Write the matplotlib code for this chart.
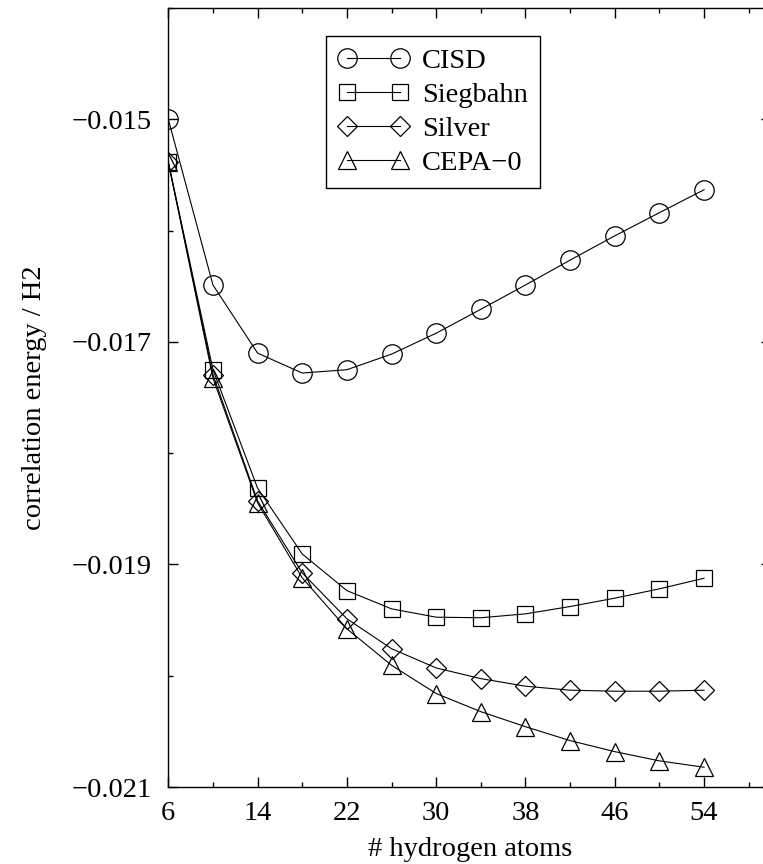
import numpy as np
import matplotlib
matplotlib.use('Agg')
import matplotlib.pyplot as plt

plt.rcParams['font.family'] = ['Liberation Serif', 'DejaVu Serif']

n_hydrogen = [6, 10, 14, 18, 22, 26, 30, 34, 38, 42, 46, 50, 54]

cisd = [-0.01500, -0.016489, -0.017101, -0.017280, -0.017250, -0.017110, -0.016922,
        -0.016707, -0.016489, -0.016265, -0.016047, -0.015839, -0.015633]
siegbahn = [-0.015385, -0.017250, -0.018315, -0.018906, -0.019235, -0.019399, -0.019474,
            -0.019479, -0.019444, -0.019378, -0.019303, -0.019219, -0.019124]
silver = [-0.015385, -0.017295, -0.018429, -0.019076, -0.019488, -0.019757, -0.019930,
          -0.020026, -0.020094, -0.020130, -0.020139, -0.020139, -0.020130]
cepa0 = [-0.015385, -0.017325, -0.018447, -0.019121, -0.019578, -0.019906, -0.020160,
         -0.020323, -0.020458, -0.020583, -0.020682, -0.020765, -0.020822]

x_major = [6, 14, 22, 30, 38, 46, 54]
x_minor = [10, 18, 26, 34, 42, 50, 58]
y_major = [-0.021, -0.019, -0.017, -0.015]
y_minor = [-0.020, -0.018, -0.016, -0.014]
y_labels = ['\u22120.021', '\u22120.019', '\u22120.017', '\u22120.015']

fs = 20.5

fig = plt.figure(figsize=(7.63, 8.64), dpi=100)
ax = fig.add_axes([0.2206, 0.0891, 0.7899, 0.9016])

style = dict(color='black', lw=0.8, mfc='none', mec='black', mew=0.9)
ax.plot(n_hydrogen, cisd, marker='o', ms=14, label='CISD', **style)
ax.plot(n_hydrogen, siegbahn, marker='s', ms=11, label='Siegbahn', **style)
ax.plot(n_hydrogen, silver, marker='D', ms=10.5, label='Silver', **style)
ax.plot(n_hydrogen, cepa0, marker='^', ms=13, label='CEPA\u22120', **style)

ax.set_xlim(6, 60)
ax.set_ylim(-0.021, -0.014)
ax.set_xticks(x_major)
ax.set_xticks(x_minor, minor=True)
ax.set_yticks(y_major)
ax.set_yticks(y_minor, minor=True)
ax.set_yticklabels(y_labels)

ax.tick_params(which='both', direction='in', top=True, right=True, width=1, labelsize=fs)
ax.tick_params(which='major', length=7)
ax.tick_params(which='minor', length=3.6)
ax.tick_params(axis='y', pad=12)
ax.tick_params(axis='x', pad=10)
for s in ax.spines.values():
    s.set_linewidth(1)

ax.set_xlabel('# hydrogen atoms', fontsize=fs, labelpad=8)
ax.set_ylabel('correlation energy / H2', fontsize=fs, labelpad=18)

leg = ax.legend(loc='upper left', bbox_to_anchor=(0.2617, 0.964), borderaxespad=0,
                numpoints=2, fontsize=fs, handlelength=2.46, handletextpad=0.5,
                labelspacing=0.28, borderpad=0.42, fancybox=False, framealpha=1,
                edgecolor='black')
leg.get_frame().set_linewidth(1)

fig.savefig('out.png', dpi=100)
